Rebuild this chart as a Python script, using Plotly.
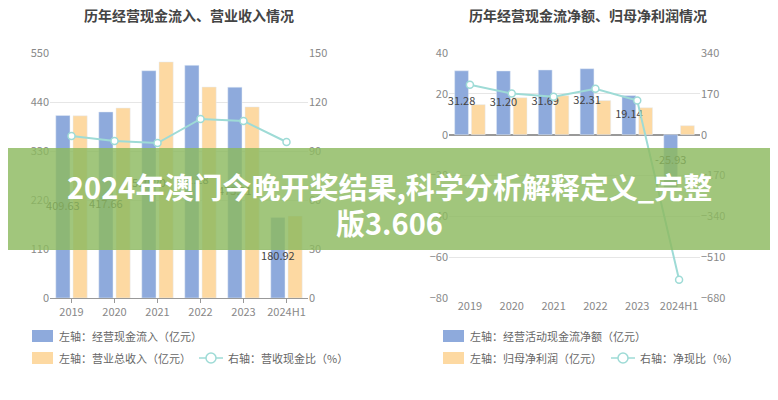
import plotly.graph_objects as go

cats = ["2019", "2020", "2021", "2022", "2023", "2024H1"]
inflow = [409.63, 417.66, 510.2, 522.28, 473.21, 180.92]
revenue = [409.0, 426.5, 530.0, 473.6, 429.0, 184.0]
ratio1 = [99.2, 96.1, 94.9, 109.6, 108.4, 95.5]
netcf = [31.28, 31.20, 31.69, 32.31, 19.14, -25.93]
profit = [14.7, 18.1, 19.1, 16.7, 13.2, 4.4]
ratio2 = [208, 171, 158, 191, 142, -604]

OFF = 8  # page body margin
W, H = 778 - OFF, 400 - OFF
def px(x): return (x - OFF) / W
def py(y): return 1 - (y - OFF) / H

BLUE = "#8EAADC"
ORANGE = "#FDD9A2"
TEAL = "#9EDBD6"
GRID = "#E6E6E6"
TICK = dict(size=11, color="#888", family="Noto Sans CJK SC")
BARTXT = dict(size=11, color="#444")
idx = list(range(len(cats)))
BW = 0.33

fig = go.Figure()
def panel(xa, ya, ya2, blue, orange, line):
    fig.add_bar(x=[i - 0.2 for i in idx], y=blue, xaxis=xa, yaxis=ya, marker_color=BLUE, width=BW)
    fig.add_bar(x=[i + 0.2 for i in idx], y=orange, xaxis=xa, yaxis=ya, marker_color=ORANGE, width=BW)
    fig.add_scatter(x=[i - 0.2 for i in idx], y=[v / 2 for v in blue], xaxis=xa, yaxis=ya, mode="text",
                    text=[f"{v:.2f}" for v in blue], textfont=BARTXT, cliponaxis=False)
    fig.add_scatter(x=idx, y=line, xaxis=xa, yaxis=ya2, mode="lines+markers",
                    line=dict(color=TEAL, width=2),
                    marker=dict(size=7, color="white", line=dict(color=TEAL, width=1.5)))

panel("x", "y", "y2", inflow, revenue, ratio1)
panel("x2", "y3", "y4", netcf, profit, ratio2)

ydom = [py(298), py(53)]
xcommon = dict(tickvals=idx, ticktext=cats, range=[-0.5, 5.5], tickfont=TICK, automargin=False,
               showgrid=False, zeroline=False)
fig.update_layout(
    width=W, height=H, margin=dict(l=0, r=0, t=0, b=0, autoexpand=False), showlegend=False,
    plot_bgcolor="white", paper_bgcolor="white", barmode="overlay",
    font=dict(family="Noto Sans CJK SC"),
    xaxis=dict(domain=[px(50), px(308)], anchor="y", showline=True, linecolor="#999",
               ticks="outside", ticklen=4, tickcolor="#999", **xcommon),
    yaxis=dict(domain=ydom, range=[0, 550], tickvals=[0, 110, 220, 330, 440, 550], tickfont=TICK,
               gridcolor=GRID, zeroline=False, automargin=False),
    yaxis2=dict(overlaying="y", side="right", anchor="x", range=[0, 150], tickvals=[0, 30, 60, 90, 120, 150],
                tickfont=TICK, showgrid=False, zeroline=False, automargin=False),
    xaxis2=dict(domain=[px(449), px(700)], anchor="y3", showline=False, **xcommon),
    yaxis3=dict(domain=ydom, range=[-80, 40], tickvals=[-80, -60, -40, -20, 0, 20, 40], tickfont=TICK,
                gridcolor=GRID, zeroline=True, zerolinecolor="#999", anchor="x2", automargin=False),
    yaxis4=dict(overlaying="y3", side="right", anchor="x2", range=[-680, 340],
                tickvals=[-680, -510, -340, -170, 0, 170, 340], tickfont=TICK, showgrid=False, zeroline=False,
                automargin=False),
)

shapes = []
ann = []
ann.append(dict(x=px(189), y=py(15), text="<b>历年经营现金流入、营业收入情况</b>", showarrow=False,
                xanchor="center", yanchor="middle",
                xref="paper", yref="paper", font=dict(size=14, color="#444")))
ann.append(dict(x=px(588), y=py(15), text="<b>历年经营现金流净额、归母净利润情况</b>", showarrow=False,
                xanchor="center", yanchor="middle",
                xref="paper", yref="paper", font=dict(size=14, color="#444")))

def rect(x, y, c):
    shapes.append(dict(type="rect", xref="paper", yref="paper", x0=px(x), x1=px(x + 21), y0=py(y + 6), y1=py(y - 6),
                       fillcolor=c, line=dict(width=0)))
def linesym(x, y):
    shapes.append(dict(type="line", xref="paper", yref="paper", x0=px(x), x1=px(x + 24), y0=py(y), y1=py(y),
                       line=dict(color=TEAL, width=1.5)))
    shapes.append(dict(type="circle", xref="paper", yref="paper", x0=px(x + 7), x1=px(x + 17), y0=py(y + 5), y1=py(y - 5),
                       fillcolor="white", line=dict(color=TEAL, width=1.5)))
def label(x, y, t):
    ann.append(dict(x=px(x), y=py(y), text=t, showarrow=False, xref="paper", yref="paper", xanchor="left",
                    yanchor="middle", font=dict(size=11, color="#666")))

rect(32, 336, BLUE); label(57, 336, "左轴：经营现金流入（亿元）")
rect(32, 358, ORANGE); label(57, 358, "左轴：营业总收入（亿元）")
linesym(199, 358); label(226, 358, "右轴：营收现金比（%）")
rect(443, 336, BLUE); label(468, 336, "左轴：经营活动现金流净额（亿元）")
rect(443, 358, ORANGE); label(468, 358, "左轴：归母净利润（亿元）")
linesym(611, 358); label(638, 358, "右轴：净现比（%）")

shapes.append(dict(type="rect", xref="paper", yref="paper", x0=0, x1=1, y0=py(250), y1=py(148),
                   fillcolor="rgba(140,185,95,0.82)", line=dict(width=0), layer="above"))
ann.append(dict(x=px(389), y=py(186), text="<b>2024年澳门今晚开奖结果,科学分析解释定义_完整</b>", showarrow=False,
                xanchor="center", yanchor="middle",
                xref="paper", yref="paper", font=dict(size=29, color="white")))
ann.append(dict(x=px(389), y=py(222), text="<b>版3.606</b>", showarrow=False,
                xanchor="center", yanchor="middle",
                xref="paper", yref="paper", font=dict(size=29, color="white")))

fig.update_layout(shapes=shapes, annotations=ann)
fig.write_html("out.html")
